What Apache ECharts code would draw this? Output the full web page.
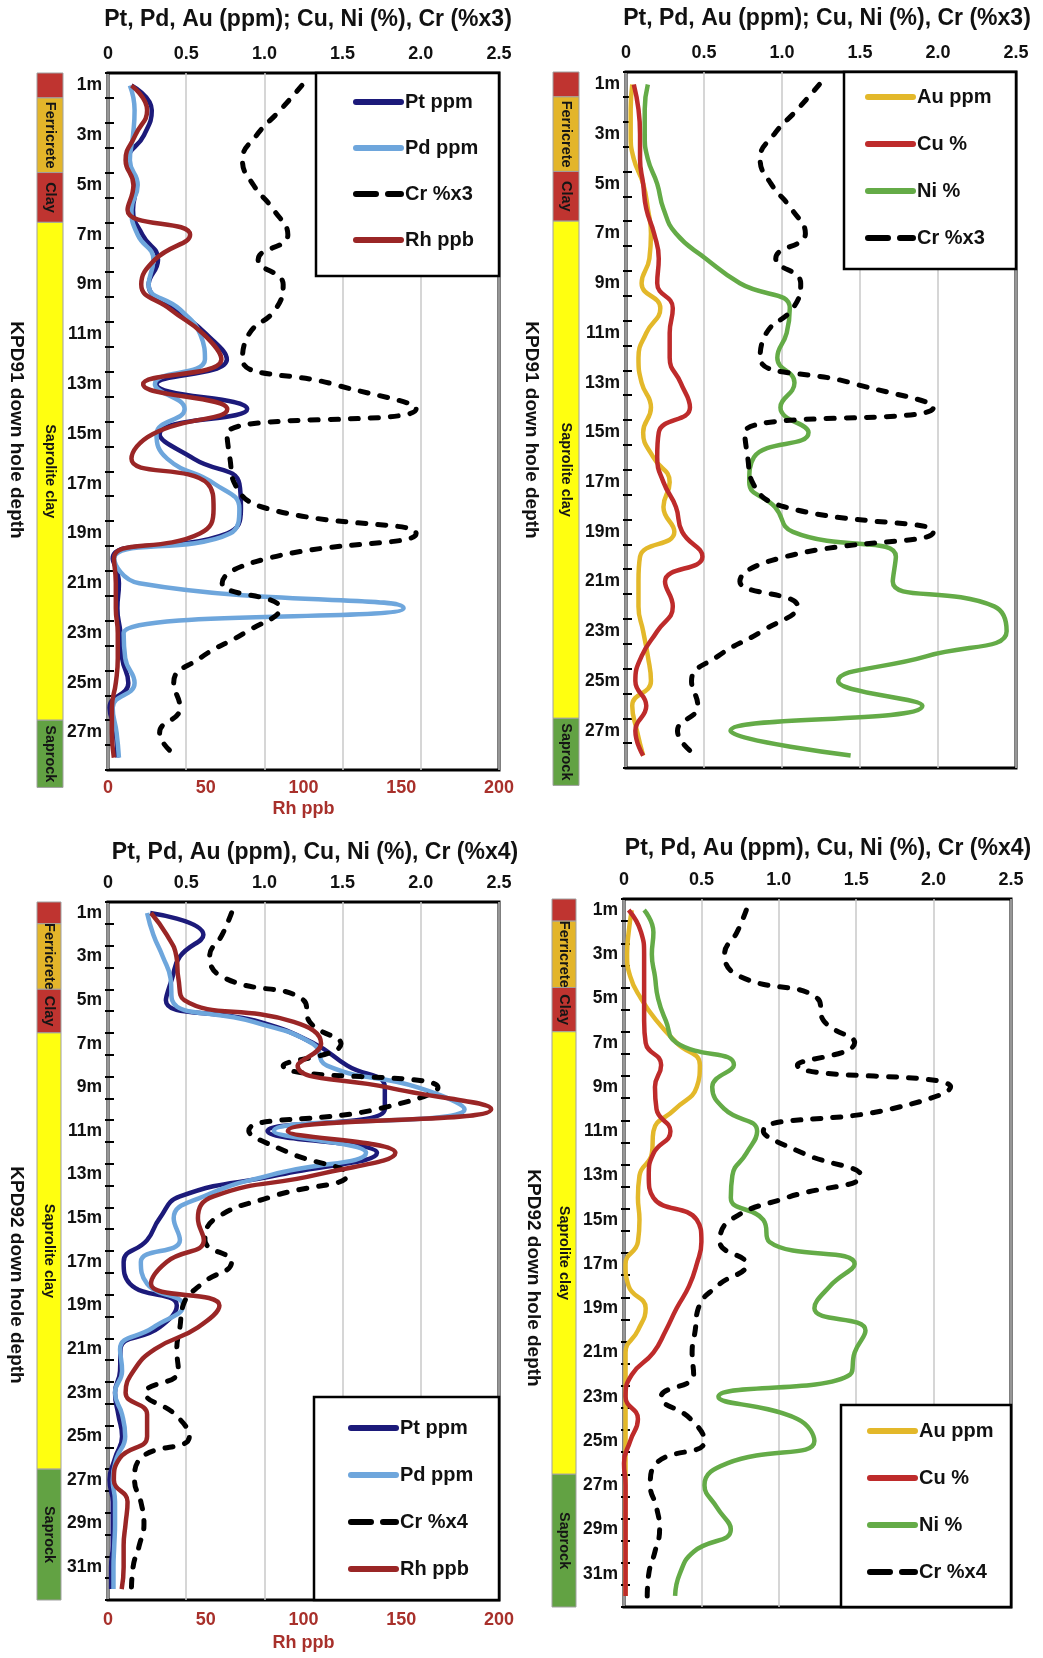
<!DOCTYPE html>
<html>
<head>
<meta charset="utf-8">
<script src="https://cdn.jsdelivr.net/npm/echarts@6/dist/echarts.min.js"></script>
<style>
  html, body { margin: 0; padding: 0; background: #fff; }
  #chart { width: 1043px; height: 1658px; }
</style>
</head>
<body>
<div id="chart"></div>
<script>
// ---- depth categories (tick labels) ----
const depth91 = ['1m','2m','3m','4m','5m','6m','7m','8m','9m','10m','11m','12m','13m','14m',
  '15m','16m','17m','18m','19m','20m','21m','22m','23m','24m','25m','26m','27m','28m'];
const depth92 = ['1m','2m','3m','4m','5m','6m','7m','8m','9m','10m','11m','12m','13m','14m',
  '15m','16m','17m','18m','19m','20m','21m','22m','23m','24m','25m','26m','27m','28m',
  '29m','30m','31m','32m'];
const topTicks = ['0', '0.5', '1.0', '1.5', '2.0', '2.5'];
const rhTicks = ['0', '50', '100', '150', '200'];

// ---- KPD91 ----
const pt91 = [0.15,0.28,0.23,0.13,0.18,0.16,0.22,0.32,0.26,0.44,0.63,0.76,0.31,0.89,0.33,0.55,0.84,0.85,0.76,0.03,0.07,0.06,0.08,0.09,0.13,0.01,0.05,0.06];
const pd91 = [0.14,0.17,0.16,0.14,0.19,0.15,0.19,0.29,0.26,0.46,0.59,0.62,0.30,0.49,0.31,0.38,0.68,0.84,0.78,0.04,0.20,1.89,0.10,0.11,0.17,0.03,0.055,0.07];
const rh91 = [12,20,14,9,13,10,42,24,17,32,49,58,18,61,23,12,51,54,47,3,4,4,5,5,4,2,2,3];
const cr91 = [1.24,1.10,0.95,0.86,0.93,1.06,1.15,0.96,1.12,1.07,0.90,0.86,1.44,1.97,0.76,0.78,0.81,1.02,1.97,1.02,0.73,1.10,0.87,0.59,0.42,0.46,0.33,0.45];
const au91 = [0.04,0.03,0.03,0.05,0.11,0.14,0.16,0.15,0.10,0.22,0.13,0.08,0.10,0.16,0.11,0.175,0.28,0.24,0.31,0.09,0.08,0.08,0.11,0.14,0.16,0.04,0.07,0.11];
const cu91 = [0.05,0.08,0.09,0.09,0.11,0.13,0.18,0.21,0.20,0.30,0.28,0.28,0.35,0.41,0.21,0.20,0.24,0.32,0.36,0.49,0.25,0.30,0.20,0.10,0.06,0.13,0.06,0.11];
const ni91 = [0.14,0.12,0.12,0.14,0.20,0.24,0.32,0.51,0.73,1.05,1.03,0.97,1.08,0.99,1.17,0.82,0.79,0.955,1.07,1.73,1.71,2.36,2.44,1.93,1.36,1.90,0.67,1.44];

// ---- KPD92 ----
const pt92 = [0.27,0.61,0.46,0.41,0.37,0.97,1.32,1.53,1.77,1.77,1.02,1.72,1.10,0.46,0.33,0.25,0.10,0.14,0.44,0.33,0.08,0.077,0.045,0.066,0.09,0.045,0.01,0.03,0.03,0.03,0.02,0.02];
const pd92 = [0.25,0.29,0.35,0.40,0.41,0.93,1.31,1.40,1.98,2.28,1.06,1.65,1.05,0.61,0.42,0.46,0.21,0.25,0.48,0.29,0.077,0.09,0.045,0.09,0.11,0.055,0.03,0.045,0.045,0.04,0.035,0.035];
const rh92 = [22,30,35,36,39,95,109,97,143,196,92,147,107,54,46,49,30,22,57,46,24,13,9,20,20,6,3,10,9,8,8,7];
const cr92 = [0.79,0.73,0.65,0.75,1.25,1.29,1.49,1.12,2.11,1.72,0.90,1.16,1.53,1.05,0.69,0.62,0.79,0.60,0.48,0.46,0.44,0.45,0.24,0.43,0.52,0.21,0.17,0.21,0.23,0.20,0.16,0.15];
const au92 = [0.05,0.03,0.02,0.04,0.11,0.21,0.34,0.49,0.47,0.33,0.19,0.18,0.10,0.09,0.10,0.09,0.01,0.03,0.14,0.09,0.01,0.01,0.01,0.01,0.01,0.01,0.01,0.01,0.01,0.01,0.01,0.01];
const cu92 = [0.03,0.11,0.13,0.13,0.13,0.13,0.14,0.24,0.20,0.21,0.30,0.19,0.16,0.19,0.47,0.50,0.47,0.42,0.34,0.27,0.19,0.05,0.01,0.09,0.04,0.0,0.01,0.01,0.01,0.01,0.01,0.01];
const ni92 = [0.13,0.19,0.18,0.20,0.22,0.27,0.34,0.71,0.57,0.65,0.86,0.79,0.70,0.69,0.90,0.94,1.49,1.33,1.23,1.56,1.49,1.46,0.61,1.12,1.23,0.67,0.52,0.60,0.69,0.45,0.36,0.33];

// ---- lithology columns (depth from / to) ----
const lithoNames = ['', 'Ferricrete', 'Clay', 'Saprolite clay', 'Saprock'];
const lithoFrom91 = [0.5, 1.5, 4.5, 6.5, 26.5];
const lithoTo91 = [1.5, 4.5, 6.5, 26.5, 29.2];
const lithoFrom92 = [0.5, 1.5, 4.5, 6.5, 26.5];
const lithoTo92 = [1.5, 4.5, 6.5, 26.5, 32.5];
const lithoColors = ['#BF3430', '#E3B52A', '#BF3430', '#FFFF10', '#62A243'];

const FONT = "'Liberation Sans', Arial, sans-serif";
const RH_RED = '#A8302B';
const colors = {
    pt: '#1C1A7A', pd: '#6EA6DC', rh: '#9A2626', cr: '#000000',
    au: '#E3B82A', cu: '#BE2B2B', ni: '#64AB47'
};

const grids = [], xAxes = [], yAxes = [], series = [], legends = [], titles = [], graphics = [];

function lineSeries(name, data, color, dashed) {
    return {
        name: name, data: data, type: 'line', smooth: true, symbol: 'none',
        lineStyle: dashed
            ? { color: color, width: 5, type: [8, 12], cap: 'round' }
            : { color: color, width: 4.5 },
        itemStyle: { color: color }
    };
}

function renderLitho(params, api) {
    const p0 = api.coord([0, api.value(1)]);
    const p1 = api.coord([1, api.value(2)]);
    const idx = api.value(3);
    const w = p1[0] - p0[0], h = p1[1] - p0[1];
    return {
        type: 'group',
        children: [
            { type: 'rect', shape: { x: p0[0], y: p0[1], width: w, height: h },
              style: { fill: lithoColors[idx], stroke: '#a0a0a0', lineWidth: 1 } },
            { type: 'text', x: p0[0] + w / 2, y: p0[1] + h / 2, rotation: -Math.PI / 2,
              style: { text: lithoNames[idx], align: 'center', verticalAlign: 'middle',
                       font: 'bold 14.5px ' + FONT, fill: '#151515' } }
        ]
    };
}

function addPanel(p) {
    const g = grids.length;
    grids.push({ left: p.box[0], top: p.box[1], width: p.box[2], height: p.box[3],
                 show: true, borderColor: '#000', borderWidth: 3 });

    const topX = xAxes.length;
    xAxes.push({
        gridIndex: g, type: 'value', position: 'top', min: 0, max: 2.5, interval: 0.5,
        axisLine: { show: false }, axisTick: { show: false },
        splitLine: { show: true, lineStyle: { color: '#c9c9c9', width: 1.5 } },
        axisLabel: { margin: 10, color: '#111', fontFamily: FONT, fontWeight: 'bold', fontSize: 18,
                     formatter: v => topTicks[Math.round(v / 0.5)] }
    });
    let rhX = null;
    if (p.rhGap) {
        rhX = xAxes.length;
        xAxes.push({
            gridIndex: g, type: 'value', position: 'bottom', min: 0, max: 200, interval: 50,
            axisLine: { show: false }, axisTick: { show: false }, splitLine: { show: false },
            axisLabel: { margin: p.rhGap[0], color: RH_RED, fontFamily: FONT, fontWeight: 'bold', fontSize: 18,
                         formatter: v => rhTicks[Math.round(v / 50)] },
            name: 'Rh ppb', nameLocation: 'middle', nameGap: p.rhGap[1],
            nameTextStyle: { color: RH_RED, fontFamily: FONT, fontWeight: 'bold', fontSize: 18 }
        });
    }

    const yMain = yAxes.length;
    yAxes.push({
        gridIndex: g, type: 'category', data: p.depths, inverse: true, boundaryGap: true,
        axisLine: { show: false },
        axisTick: { show: true, interval: 0, length: 3, lineStyle: { color: '#000', width: 2 } },
        axisLabel: { interval: 1, margin: 6, color: '#111', fontFamily: FONT, fontWeight: 'bold', fontSize: 17.5 },
        splitLine: { show: false }
    });
    yAxes.push({
        gridIndex: g, type: 'category', data: p.depths, inverse: true, boundaryGap: true, position: 'left',
        axisLine: { show: false },
        axisTick: { show: true, inside: true, interval: 0, length: 6, lineStyle: { color: '#000', width: 2 } },
        axisLabel: { show: false }, splitLine: { show: false }
    });

    p.lines.forEach(s => {
        const ser = lineSeries(s[0], s[1], s[2], s[3]);
        ser.xAxisIndex = s[4] ? rhX : topX;
        ser.yAxisIndex = yMain;
        series.push(ser);
    });

    // lithology column
    const lg = grids.length;
    grids.push({ left: p.litho[0], top: p.box[1], width: p.litho[1], height: p.box[3] });
    const lx = xAxes.length;
    xAxes.push({ gridIndex: lg, type: 'value', min: 0, max: 1, show: false });
    const ly = yAxes.length;
    yAxes.push({ gridIndex: lg, type: 'value', min: 0.5, max: p.depths.length + 0.5, inverse: true, show: false });
    series.push({
        type: 'custom', xAxisIndex: lx, yAxisIndex: ly, renderItem: renderLitho, clip: false, silent: true,
        encode: { x: 0, y: [1, 2] },
        data: p.lithoFrom.map((d, i) => [0, d, p.lithoTo[i], i])
    });

    titles.push({
        text: p.title, left: p.titleX, top: p.titleY, textAlign: 'center',
        textStyle: { fontFamily: FONT, fontWeight: 'bold', fontSize: 23, color: '#111' }
    });

    legends.push({
        data: p.lines.map(s => s[3]
            ? { name: s[0], lineStyle: { type: [20, 12], width: 6, cap: 'round' } }
            : { name: s[0] }),
        orient: 'vertical', left: p.legend[0], top: p.legend[1],
        padding: 0, itemWidth: 45, itemHeight: 14, itemGap: p.legend[2], selectedMode: false, z: 10,
        itemStyle: { opacity: 0 },
        lineStyle: { width: 6, cap: 'round' },
        textStyle: { fontFamily: FONT, fontWeight: 'bold', fontSize: 20, color: '#111', lineHeight: 20, padding: [0, 0, 0, -1] }
    });

    graphics.push({
        type: 'rect', z: 5, silent: true,
        shape: { x: p.legendBox[0], y: p.legendBox[1], width: p.legendBox[2], height: p.legendBox[3] },
        style: { fill: '#fff', stroke: '#000', lineWidth: 2.5 }
    });
    graphics.push({
        type: 'text', z: 5, x: p.yName[0], y: p.yName[1], rotation: -Math.PI / 2,
        style: { text: p.yName[2], align: 'center', verticalAlign: 'middle',
                 font: 'bold 19px ' + FONT, fill: '#111' }
    });
}

addPanel({
    box: [108, 73, 391, 697], depths: depth91, rhGap: [9, 30],
    title: 'Pt, Pd, Au (ppm); Cu, Ni (%), Cr (%x3)', titleX: 303, titleY: 3,
    lines: [
        ['Pt ppm', pt91, colors.pt, false, false],
        ['Pd ppm', pd91, colors.pd, false, false],
        ['Cr %x3', cr91, colors.cr, true, false],
        ['Rh ppb', rh91, colors.rh, false, true]
    ],
    litho: [37, 26], lithoFrom: lithoFrom91, lithoTo: lithoTo91,
    legend: [353, 92, 26], legendBox: [316, 73, 183, 203],
    yName: [16, 430, 'KPD91 down hole depth']
});

addPanel({
    box: [626, 72, 390, 696], depths: depth91, rhGap: null,
    title: 'Pt, Pd, Au (ppm); Cu, Ni (%), Cr (%x3)', titleX: 822, titleY: 2,
    lines: [
        ['Au ppm', au91, colors.au, false, false],
        ['Cu %', cu91, colors.cu, false, false],
        ['Ni %', ni91, colors.ni, false, false],
        ['Cr %x3', cr91, colors.cr, true, false]
    ],
    litho: [553, 26], lithoFrom: lithoFrom91, lithoTo: lithoTo91,
    legend: [865, 87, 27], legendBox: [844, 72, 172, 197],
    yName: [531, 430, 'KPD91 down hole depth']
});

addPanel({
    box: [108, 902, 391, 698], depths: depth92, rhGap: [11, 34],
    title: 'Pt, Pd, Au (ppm), Cu, Ni (%), Cr (%x4)', titleX: 310, titleY: 836,
    lines: [
        ['Pt ppm', pt92, colors.pt, false, false],
        ['Pd ppm', pd92, colors.pd, false, false],
        ['Cr %x4', cr92, colors.cr, true, false],
        ['Rh ppb', rh92, colors.rh, false, true]
    ],
    litho: [37, 24], lithoFrom: lithoFrom92, lithoTo: lithoTo92,
    legend: [348, 1418, 27], legendBox: [314, 1397, 185, 203],
    yName: [16, 1275, 'KPD92 down hole depth']
});

addPanel({
    box: [624, 899, 387, 708], depths: depth92, rhGap: null,
    title: 'Pt, Pd, Au (ppm), Cu, Ni (%), Cr (%x4)', titleX: 823, titleY: 832,
    lines: [
        ['Au ppm', au92, colors.au, false, false],
        ['Cu %', cu92, colors.cu, false, false],
        ['Ni %', ni92, colors.ni, false, false],
        ['Cr %x4', cr92, colors.cr, true, false]
    ],
    litho: [552, 24], lithoFrom: lithoFrom92, lithoTo: lithoTo92,
    legend: [867, 1421, 27], legendBox: [841, 1405, 170, 202],
    yName: [533, 1278, 'KPD92 down hole depth']
});

const chart = echarts.init(document.getElementById('chart'));
chart.setOption({
    backgroundColor: '#fff',
    animation: false,
    title: titles,
    grid: grids,
    xAxis: xAxes,
    yAxis: yAxes,
    legend: legends,
    graphic: { elements: graphics },
    series: series
});
</script>
</body>
</html>
